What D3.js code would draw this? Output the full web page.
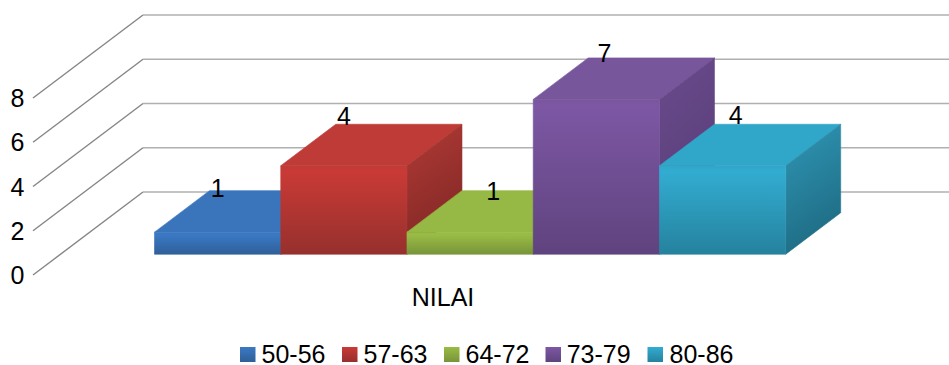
<!DOCTYPE html>
<html>
<head>
<meta charset="utf-8">
<script src="https://cdn.jsdelivr.net/npm/d3@7"></script>
<style>
  html, body { margin: 0; padding: 0; background: #fff; }
  svg { display: block; }
  text { font-family: "Liberation Sans", Arial, sans-serif; fill: #000; }
</style>
</head>
<body>
<svg id="chart" width="949" height="365"></svg>
<script>
// Frequency of scores per class interval
const category = "NILAI";
const intervals = ["50-56", "57-63", "64-72", "73-79", "80-86"];
const counts = [1, 4, 1, 7, 4];
const axisTicks = [0, 2, 4, 6, 8];

// Colour ramps: front top/bottom, top face, side start/end
const frontLight = ["#3a79c4", "#c93a36", "#99bc45", "#7d57a4", "#32acd1"];
const frontDark = ["#2f5f99", "#96302d", "#789439", "#5f437e", "#25829e"];
const topFace = ["#3a75bc", "#bf3b37", "#95b944", "#78569c", "#30a6c8"];
const sideLight = ["#33669f", "#b23a36", "#86a53c", "#6a4b8e", "#2f97b6"];
const sideDark = ["#28507e", "#812825", "#647c2d", "#573c74", "#1f6c84"];

// Value-label nudges from each column's centre and back-top edge
const labelNudgeX = [0, 0, 23, 8, 13];
const labelNudgeY = [6, 1, 9, 4, 0];

const svg = d3.select("#chart");
const fontSize = 25;

// Projection: the floor recedes along (depthX, depthY)
const depthX = 110, depthY = -83;
const wallFrontX = 33, wallFrontBaseY = 275;
const frontT = 0.25, backT = 0.75;

const y = d3.scaleLinear().domain([0, 8]).range([0, -177]);
const x = d3.scaleBand().domain(intervals).range([154.5, 785.7]);
const project = (px, value, t) => [px + depthX * t, wallFrontBaseY + y(value) + depthY * t];

// Back wall and side wall gridlines
const grid = svg.append("g");
axisTicks.forEach(t => {
  const a = [wallFrontX, wallFrontBaseY + y(t)];
  const b = [wallFrontX + depthX, wallFrontBaseY + y(t) + depthY];
  grid.append("line").attr("x1", a[0]).attr("y1", a[1]).attr("x2", b[0]).attr("y2", b[1])
    .attr("stroke", "#858585").attr("stroke-width", 1.4);
  grid.append("line").attr("x1", b[0]).attr("y1", b[1]).attr("x2", 949).attr("y2", b[1])
    .attr("stroke", "#b0b0b0").attr("stroke-width", 1.6);
  svg.append("text").attr("x", 17.5).attr("y", wallFrontBaseY + y(t) + 9)
    .attr("text-anchor", "middle").attr("font-size", fontSize).text(t);
});

// Gradients for each column's faces
const defs = svg.append("defs");
intervals.forEach((d, i) => {
  const front = defs.append("linearGradient").attr("id", `front${i}`)
    .attr("x1", 0).attr("y1", 0).attr("x2", 0).attr("y2", 1);
  front.append("stop").attr("offset", 0).attr("stop-color", topFace[i]);
  front.append("stop").attr("offset", Math.min(0.12, 6 / (-y(counts[i])))).attr("stop-color", frontLight[i]);
  front.append("stop").attr("offset", 1).attr("stop-color", frontDark[i]);
  const side = defs.append("linearGradient").attr("id", `side${i}`)
    .attr("x1", 0).attr("y1", 0).attr("x2", 0.3).attr("y2", 1);
  side.append("stop").attr("offset", 0).attr("stop-color", sideLight[i]);
  side.append("stop").attr("offset", 1).attr("stop-color", sideDark[i]);
});

const poly = pts => pts.map(p => p.join(",")).join(" ");

function drawLabel(i) {
  const px = x(intervals[i]) + x.bandwidth() / 2 + labelNudgeX[i];
  const top = project(px, counts[i], backT);
  svg.append("text").attr("x", px).attr("y", top[1] + labelNudgeY[i])
    .attr("text-anchor", "middle").attr("font-size", fontSize).text(counts[i]);
}

// Columns painted left to right so later ones overlap earlier sides
intervals.forEach((d, i) => {
  const x0 = x(d) - depthX * frontT;
  const x1 = x0 + x.bandwidth();
  const v = counts[i];
  const g = svg.append("g").attr("stroke-width", 0.6).attr("stroke-linejoin", "round");
  g.append("polygon").attr("points", poly([
    project(x0, v, frontT), project(x1, v, frontT), project(x1, v, backT), project(x0, v, backT)
  ])).attr("fill", topFace[i]).attr("stroke", topFace[i]);
  g.append("polygon").attr("points", poly([
    project(x1, v, frontT), project(x1, v, backT), project(x1, 0, backT), project(x1, 0, frontT)
  ])).attr("fill", `url(#side${i})`).attr("stroke", `url(#side${i})`);
  g.append("polygon").attr("points", poly([
    project(x0, v, frontT), project(x1, v, frontT), project(x1, 0, frontT), project(x0, 0, frontT)
  ])).attr("fill", `url(#front${i})`).attr("stroke", `url(#front${i})`);
});
intervals.forEach((d, i) => drawLabel(i));

// Category label under the floor
svg.append("text").attr("x", 443).attr("y", 306)
  .attr("text-anchor", "middle").attr("font-size", fontSize).text(category);

// Legend
const legendX = [240, 342, 444, 545.5, 647.5];
const legendTextX = [261.5, 363.5, 465.5, 566.7, 669.5];
intervals.forEach((d, i) => {
  defs.append("linearGradient").attr("id", `key${i}`)
    .attr("x1", 0).attr("y1", 0).attr("x2", 0).attr("y2", 1)
    .selectAll("stop").data([frontLight[i], frontDark[i]]).join("stop")
    .attr("offset", (c, k) => k).attr("stop-color", c => c);
  svg.append("rect").attr("x", legendX[i]).attr("y", 347).attr("width", 15.5).attr("height", 15)
    .attr("fill", `url(#key${i})`);
  svg.append("text").attr("x", legendTextX[i]).attr("y", 363)
    .attr("font-size", fontSize).text(d);
});
</script>
</body>
</html>
